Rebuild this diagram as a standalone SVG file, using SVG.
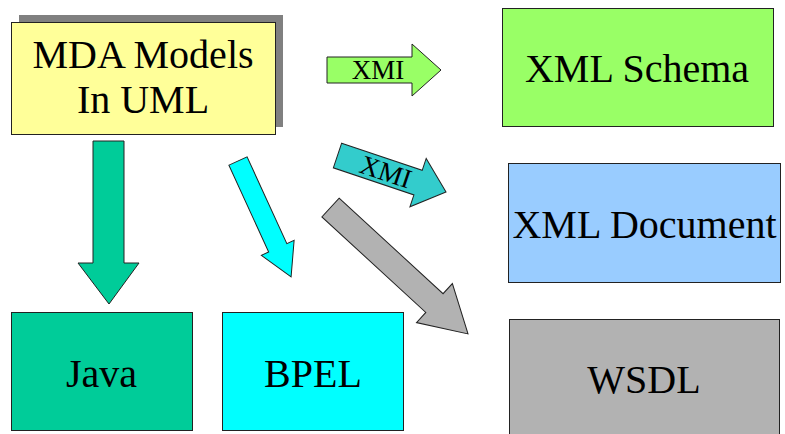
<svg xmlns="http://www.w3.org/2000/svg" width="785" height="434" viewBox="0 0 785 434">
<style>
.box{stroke:#222;stroke-width:1}
.arr{stroke:#222;stroke-width:1;stroke-linejoin:miter}
text{font-family:'Liberation Serif','DejaVu Serif',serif;fill:#000;text-anchor:middle}
.t{font-size:40px}
.s{font-size:27px}
</style>
<rect width="785" height="434" fill="#fff"/>
<g id="mda">
<rect x="19" y="15" width="264" height="112" fill="#808080"/>
<rect class="box" x="11.5" y="22.5" width="264" height="112" fill="#FFFF99"/>
<text class="t" x="143" y="68" font-family="Liberation Serif, serif">MDA Models</text>
<text class="t" x="143" y="113" font-family="Liberation Serif, serif">In UML</text>
</g>
<g id="xmlschema">
<rect class="box" x="502.5" y="8.5" width="271" height="118" fill="#99FF66"/>
<text class="t" x="637" y="82">XML Schema</text>
</g>
<g id="xmldocument">
<rect class="box" x="508.5" y="163.5" width="272" height="119" fill="#99CCFF"/>
<text class="t" x="644.5" y="238">XML Document</text>
</g>
<g id="wsdl">
<rect class="box" x="509.5" y="319.5" width="270" height="125" fill="#B2B2B2"/>
<text class="t" x="644" y="393">WSDL</text>
</g>
<g id="java">
<rect class="box" x="11.5" y="312.5" width="181" height="118" fill="#00CC99"/>
<text class="t" x="101.5" y="387">Java</text>
</g>
<g id="bpel">
<rect class="box" x="222.5" y="312.5" width="181" height="118" fill="#00FFFF"/>
<text class="t" x="313" y="387">BPEL</text>
</g>
<g id="connectors">
<polygon class="arr" fill="#00CC99" points="93,141 124,141 124,263 139,263 109,304 78,263 93,263"/>
<g transform="translate(327,70)">
<polygon class="arr" fill="#99FF66" points="0,-13 85,-13 85,-26 114,0 85,26 85,13 0,13"/>
<text class="s" x="51" y="9">XMI</text>
</g>
<g transform="translate(337.5,155.5) rotate(18.6)">
<polygon class="arr" fill="#33CCCC" points="0,-13 85,-13 85,-25.5 114.5,0 85,25.5 85,13 0,13"/>
<text class="s" x="51" y="9">XMI</text>
</g>
<polygon class="arr" fill="#00FFFF" transform="translate(238,161) rotate(65.4)" points="0,-10 95.5,-10 95.5,-18 127.5,0 95.5,18 95.5,10 0,10"/>
<polygon class="arr" fill="#B2B2B2" transform="translate(330.5,207.5) rotate(42.6)" points="0,-12.75 141.2,-12.75 141.2,-26.5 186.8,0 141.2,26.5 141.2,12.75 0,12.75"/>
</g>
</svg>
